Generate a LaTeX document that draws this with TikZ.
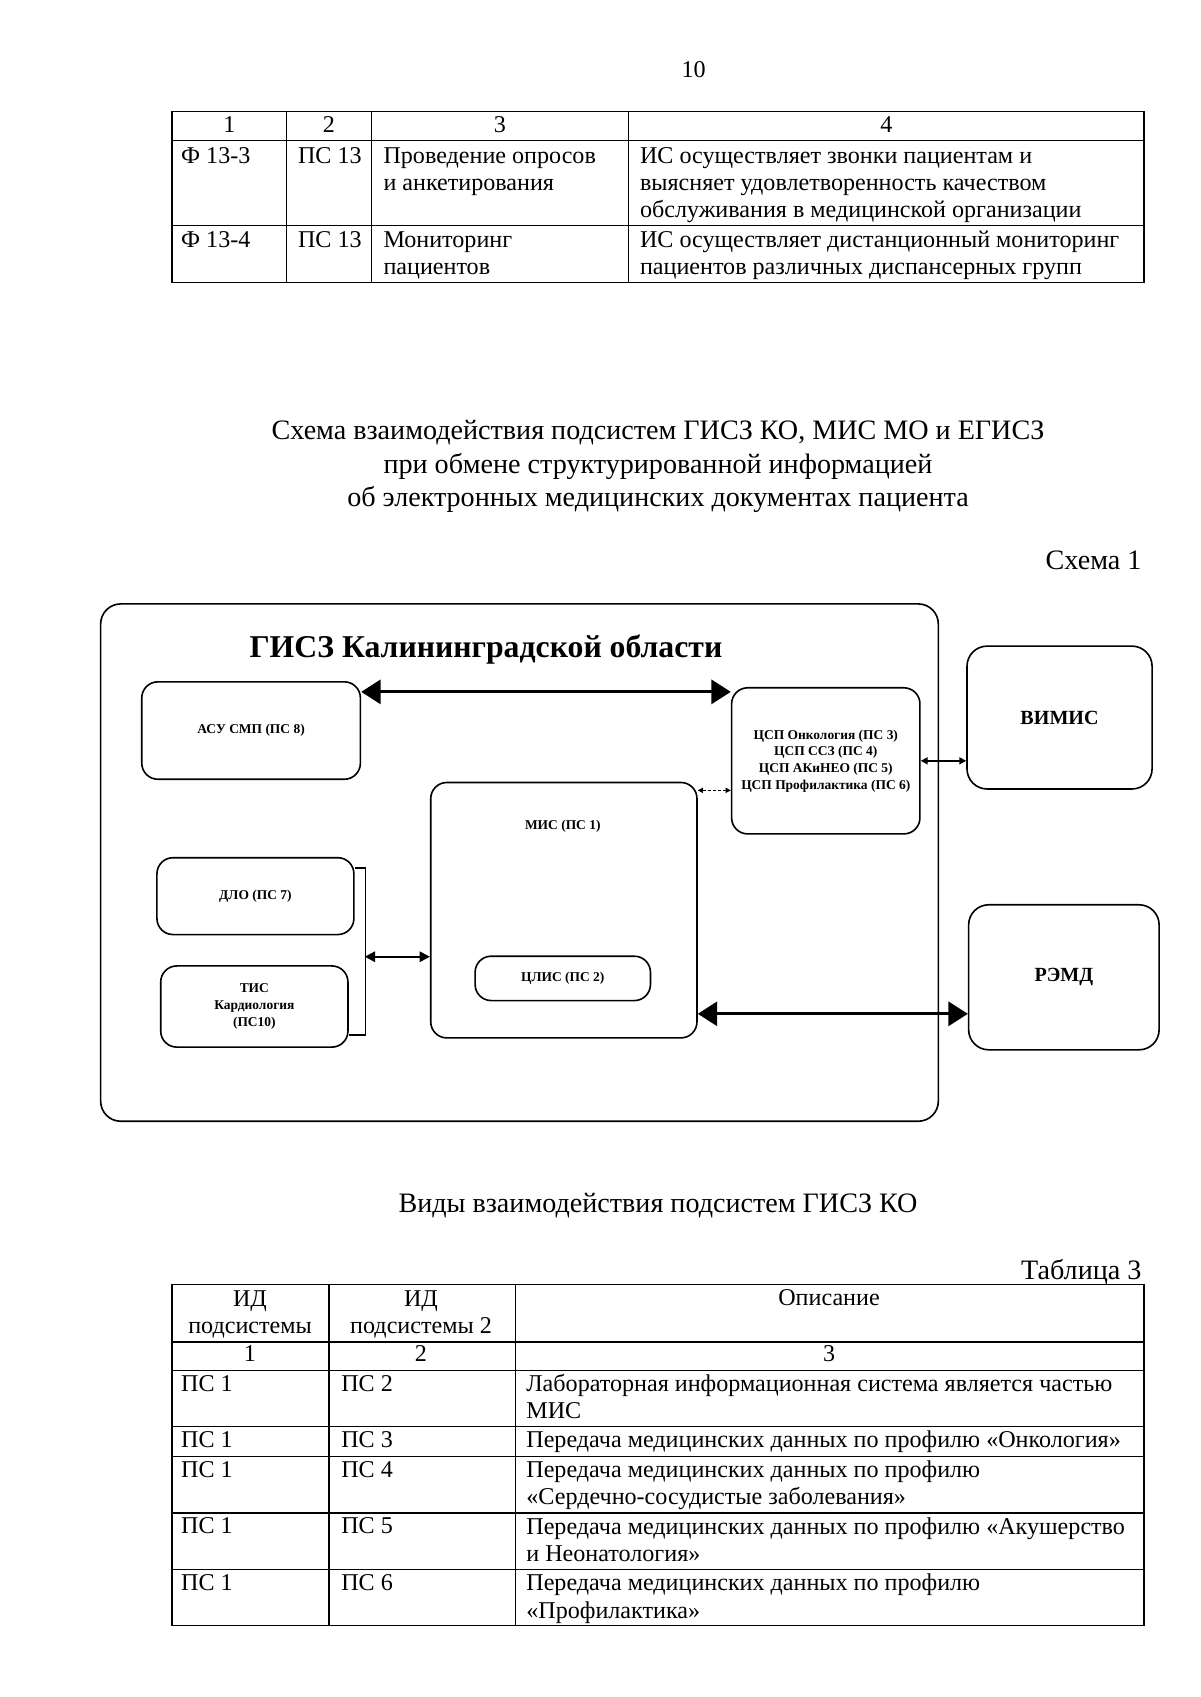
\documentclass[tikz,border=0pt]{standalone}
\usepackage{fontspec}
\setmainfont{Liberation Serif}
\usetikzlibrary{arrows.meta,positioning}

\newcommand\pu{0.018936cm}

\begin{document}
\begin{tikzpicture}[
  x=\pu, y=-\pu,
  rule/.style={line width=0.6pt},
  body/.style={inner sep=0pt, font=\fontsize{14}{16.6}\selectfont},
  cell/.style={anchor=base west, inner sep=0pt, align=left,
    font=\fontsize{12}{13.5}\selectfont},
  head/.style={cell, anchor=base, align=center},
  sysbox/.style={
    draw,
    rounded corners=8pt,
    line width=0.8pt,
    align=center,
    inner sep=1pt,
    font=\bfseries\fontsize{6.7}{8.3}\selectfont
  },
  boxtext/.style={inner sep=0pt, font=\bfseries\fontsize{6.7}{8.3}\selectfont},
  extbox/.style={sysbox, rounded corners=10pt, font=\bfseries\fontsize{10}{12}\selectfont},
  bigarrow/.style={{Triangle[length=0.34cm,width=0.42cm]}-{Triangle[length=0.34cm,width=0.42cm]}, line width=1.6pt},
  midarrow/.style={{Triangle[length=0.18cm,width=0.18cm]}-{Triangle[length=0.18cm,width=0.18cm]}, line width=1pt},
  smallarrow/.style={{Triangle[length=0.12cm,width=0.12cm]}-{Triangle[length=0.12cm,width=0.12cm]}, line width=0.8pt},
  dasharrow/.style={{Triangle[length=0.09cm,width=0.09cm]}-{Triangle[length=0.09cm,width=0.09cm]}, line width=0.5pt, dash pattern=on 1.5pt off 1pt}
]
\useasboundingbox (0,0) rectangle (1109,1568);

\node[body, font=\fontsize{12}{14}\selectfont] (pagenum) at (641,64) {10};

% first table (end of previous page); multi-line cells sit on their last baseline
\draw[rule] (159,103) rectangle (1057,261);
\foreach \y in {130,208} \draw[rule] (159,\y) -- (1057,\y);
\foreach \x in {265,343,581} \draw[rule] (\x,103) -- (\x,261);
\node[head] (th1) at (212,122) {1};
\node[head] (th2) at (304,122) {2};
\node[head] (th3) at (462,122) {3};
\node[head] (th4) at (819,122) {4};
\node[cell] (ta1) at (167,151) {Ф 13-3};
\node[cell] (ta2) at (275,151) {ПС 13};
\node[cell] (ta3) at (354,176) {Проведение опросов\\и анкетирования};
\node[cell] (ta4) at (591,201) {ИС осуществляет звонки пациентам и\\выясняет удовлетворенность качеством\\обслуживания в медицинской организации};
\node[cell] (tb1) at (167,229) {Ф 13-4};
\node[cell] (tb2) at (275,229) {ПС 13};
\node[cell] (tb3) at (354,254) {Мониторинг\\пациентов};
\node[cell] (tb4) at (591,254) {ИС осуществляет дистанционный мониторинг\\пациентов различных диспансерных групп};

\node[body, align=center] (title) at (608,431) {Схема взаимодействия подсистем ГИСЗ КО, МИС МО и ЕГИСЗ\\при обмене структурированной информацией\\об электронных медицинских документах пациента};
\node[body, anchor=base east] (schema) at (1055,526) {Схема 1};

% scheme 1
\node[draw, line width=0.8pt, rounded corners=10pt, minimum width=774*\pu, minimum height=478*\pu] (gisz) at (480,797) {};
\node[inner sep=0pt, font=\bfseries\fontsize{15.8}{19}\selectfont] (gisztitle) at (449,600) {ГИСЗ Калининградской области};

\node[sysbox, minimum width=202*\pu, minimum height=90*\pu] (asu) at (232,675) {АСУ СМП (ПС 8)};
\node[sysbox, minimum width=174*\pu, minimum height=135*\pu] (csp) at (763,703) {ЦСП Онкология (ПС 3)\\ЦСП ССЗ (ПС 4)\\ЦСП АКиНЕО (ПС 5)\\ЦСП Профилактика (ПС 6)};
\node[extbox, minimum width=171*\pu, minimum height=132*\pu] (vimis) at (979,663) {ВИМИС};
\node[sysbox, minimum width=246*\pu, minimum height=236*\pu] (mis) at (521,841) {};
\node[boxtext] (mistext) at (520,763) {МИС (ПС 1)};
\node[sysbox, minimum width=162*\pu, minimum height=41*\pu] (clis) at (520,904) {ЦЛИС (ПС 2)};
\node[sysbox, minimum width=182*\pu, minimum height=71*\pu] (dlo) at (236,828) {ДЛО (ПС 7)};
\node[sysbox, minimum width=173*\pu, minimum height=75*\pu] (tis) at (235,930) {ТИС\\Кардиология\\(ПС10)};
\node[extbox, minimum width=176*\pu, minimum height=134*\pu] (remd) at (983,903) {РЭМД};

\draw[bigarrow] ([yshift=-10*\pu]asu.north east) -- ([yshift=-10*\pu]asu.north east -| csp.west);
\draw[smallarrow] (csp.east) -- (csp.east -| vimis.west);
\draw[dasharrow] ([yshift=-8*\pu]mis.north east) -- ([yshift=-8*\pu]mis.north east -| csp.west);
\draw[line width=0.8pt] ([yshift=-10*\pu]dlo.north east) -- ++(10,0) |- ([yshift=12*\pu]tis.south east);
\coordinate (brkmid) at (337,884);
\draw[midarrow] (brkmid) -- (brkmid -| mis.west);
\draw[bigarrow] ([yshift=23*\pu]mis.south east) -- ([yshift=23*\pu]mis.south east -| remd.west);

\node[body] (kinds) at (608,1114) {Виды взаимодействия подсистем ГИСЗ КО};
\node[body, anchor=base east] (tab3) at (1055,1182) {Таблица 3};

% table 3
\draw[rule] (159,1187) rectangle (1057,1502);
\foreach \y in {1240,1266,1318,1346,1398,1450} \draw[rule] (159,\y) -- (1057,\y);
\foreach \x in {304,476} \draw[rule] (\x,1187) -- (\x,1502);
\node[head] (bh1) at (231,1232) {ИД\\подсистемы};
\node[head] (bh2) at (389,1232) {ИД\\подсистемы 2};
\node[head] (bh3) at (766,1206) {Описание};
\node[head] (bn1) at (231,1258) {1};
\node[head] (bn2) at (389,1258) {2};
\node[head] (bn3) at (766,1258) {3};
\node[cell] (r1a) at (167,1286) {ПС 1};
\node[cell] (r1b) at (315,1286) {ПС 2};
\node[cell] (r1c) at (486,1311) {Лабораторная информационная система является частью\\МИС};
\node[cell] (r2a) at (167,1337) {ПС 1};
\node[cell] (r2b) at (315,1337) {ПС 3};
\node[cell] (r2c) at (486,1337) {Передача медицинских данных по профилю «Онкология»};
\node[cell] (r3a) at (167,1365) {ПС 1};
\node[cell] (r3b) at (315,1365) {ПС 4};
\node[cell] (r3c) at (486,1390) {Передача медицинских данных по профилю\\«Сердечно-сосудистые заболевания»};
\node[cell] (r4a) at (167,1417) {ПС 1};
\node[cell] (r4b) at (315,1417) {ПС 5};
\node[cell] (r4c) at (486,1443) {Передача медицинских данных по профилю «Акушерство\\и Неонатология»};
\node[cell] (r5a) at (167,1470) {ПС 1};
\node[cell] (r5b) at (315,1470) {ПС 6};
\node[cell] (r5c) at (486,1495) {Передача медицинских данных по профилю\\«Профилактика»};
\end{tikzpicture}
\end{document}
